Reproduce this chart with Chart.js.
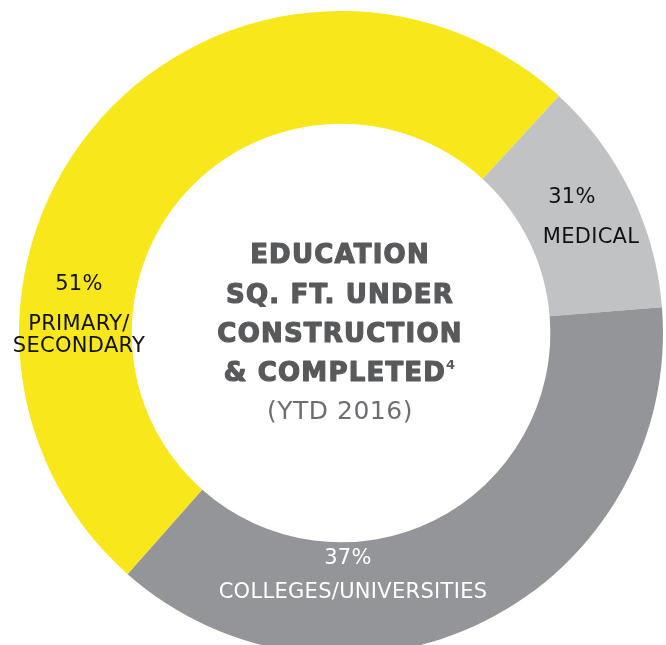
<!DOCTYPE html>
<html>
<head>
<meta charset="utf-8">
<script src="https://cdn.jsdelivr.net/npm/chart.js@4.4.1/dist/chart.umd.min.js"></script>
<style>
  html, body { margin: 0; padding: 0; background: #ffffff; overflow: hidden; }
  #wrap { position: relative; width: 666px; height: 645px; }
</style>
</head>
<body>
<div id="wrap"><canvas id="chart" width="666" height="645"></canvas></div>
<script>
// Datos
const categories = ['PRIMARY/SECONDARY', 'MEDICAL', 'COLLEGES/UNIVERSITIES'];
const shares = [50.3, 11.9, 37.8];          // tamano de cada arco (estimado)
const pctLabels = ['51%', '31%', '37%'];     // porcentajes tal como aparecen impresos
const labelLines = [['PRIMARY/', 'SECONDARY'], ['MEDICAL'], ['COLLEGES/UNIVERSITIES']];
const sliceColors = ['#F7E71B', '#C1C2C4', '#939598'];
const labelColors = ['#111111', '#111111', '#FFFFFF'];
const titleLines = ['EDUCATION', 'SQ. FT. UNDER', 'CONSTRUCTION', '& COMPLETED'];
const titleNote = '4';
const subtitle = '(YTD 2016)';

// Posicion de las etiquetas de cada segmento
const labelPos = [
  { x: 79, pctY: 285, lineY: 325, lineGap: 22 },
  { x: 572, pctY: 198, lineY: 238, lineGap: 22, lineX: 591 },
  { x: 348, pctY: 559, lineY: 593, lineGap: 22, lineX: 353 }
];

const BOLD = 'bold 26px "DejaVu Sans", sans-serif';
const NOTE = 'bold 13px "DejaVu Sans", sans-serif';

const textPlugin = {
  id: 'textPlugin',
  afterDraw(chart) {
    const ctx = chart.ctx;
    ctx.save();
    ctx.textAlign = 'center';
    ctx.textBaseline = 'middle';

    // Etiquetas de segmentos
    ctx.font = '21px "DejaVu Sans", sans-serif';
    ctx.letterSpacing = '0.3px';
    categories.forEach((c, i) => {
      const p = labelPos[i];
      ctx.fillStyle = labelColors[i];
      ctx.fillText(pctLabels[i], p.x, p.pctY);
      labelLines[i].forEach((line, j) => {
        ctx.fillText(line, p.lineX || p.x, p.lineY + j * p.lineGap);
      });
    });

    // Titulo central
    const cx = 340;
    const ys = [256, 296, 335, 374];
    ctx.fillStyle = '#58595B';
    ctx.strokeStyle = '#58595B';
    ctx.lineWidth = 1.2;
    ctx.lineJoin = 'round';
    ctx.font = BOLD;
    ctx.letterSpacing = '1.2px';
    titleLines.forEach((line, i) => {
      if (i === titleLines.length - 1) {
        const w = ctx.measureText(line).width;
        ctx.font = NOTE;
        const wn = ctx.measureText(titleNote).width;
        ctx.font = BOLD;
        const left = cx - (w + wn) / 2;
        ctx.textAlign = 'left';
        ctx.fillText(line, left, ys[i]);
        ctx.strokeText(line, left, ys[i]);
        ctx.font = NOTE;
        ctx.fillText(titleNote, left + w, ys[i] - 8);
        ctx.textAlign = 'center';
        ctx.font = BOLD;
      } else {
        ctx.fillText(line, cx, ys[i]);
        ctx.strokeText(line, cx, ys[i]);
      }
    });

    ctx.fillStyle = '#6D6E71';
    ctx.font = '25px "DejaVu Sans", sans-serif';
    ctx.letterSpacing = '0.5px';
    ctx.fillText(subtitle, cx, 412);
    ctx.restore();
  }
};

new Chart(document.getElementById('chart'), {
  type: 'doughnut',
  data: {
    labels: categories,
    datasets: [{
      data: shares,
      backgroundColor: sliceColors,
      borderWidth: 0,
      hoverBorderWidth: 0,
      hoverOffset: 0,
      offset: 0,
      clip: false
    }]
  },
  options: {
    responsive: false,
    animation: false,
    devicePixelRatio: 1,
    events: [],
    rotation: 221.5,
    radius: 322,
    cutout: '65%',
    layout: { padding: { left: 19, right: 3, top: 21, bottom: 0 } },
    plugins: {
      legend: { display: false },
      tooltip: { enabled: false }
    }
  },
  plugins: [textPlugin]
});
</script>
</body>
</html>
